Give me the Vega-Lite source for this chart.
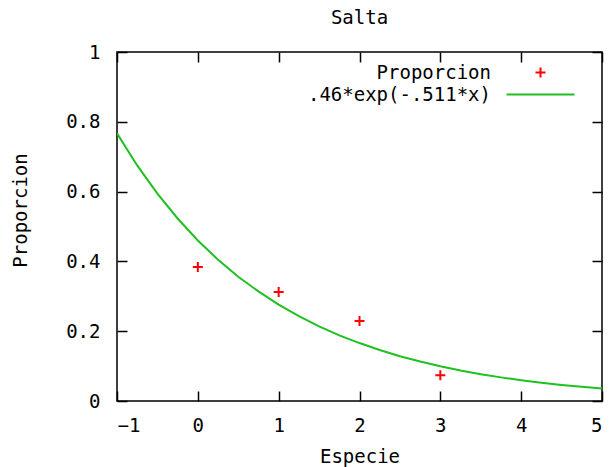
{
  "$schema": "https://vega.github.io/schema/vega-lite/v6.json",
  "width": 485,
  "height": 349,
  "autosize": {"type": "none"},
  "padding": {"left": 117, "top": 52, "right": 10, "bottom": 66},
  "background": "#ffffff",
  "title": {"text": "Salta", "font": "DejaVu Sans Mono", "fontSize": 19, "fontWeight": "normal", "color": "#000", "offset": -4, "anchor": "middle", "frame": "group", "baseline": "bottom"},
  "config": {
    "view": {"stroke": "#000", "strokeWidth": 1.5},
    "axis": {"grid": false, "domain": false, "tickSize": -10, "tickColor": "#000", "tickWidth": 1.5, "labelFont": "DejaVu Sans Mono", "labelFontSize": 19, "labelColor": "#000", "titleFont": "DejaVu Sans Mono", "titleFontSize": 19, "titleFontWeight": "normal", "titleColor": "#000"}
  },
  "datasets": {
    "fit": [
      {"x": -1, "y": 0.767}, {"x": -0.75, "y": 0.675}, {"x": -0.5, "y": 0.594}, {"x": -0.25, "y": 0.523},
      {"x": 0, "y": 0.46}, {"x": 0.25, "y": 0.405}, {"x": 0.5, "y": 0.356}, {"x": 0.75, "y": 0.314},
      {"x": 1, "y": 0.276}, {"x": 1.25, "y": 0.243}, {"x": 1.5, "y": 0.214}, {"x": 1.75, "y": 0.188},
      {"x": 2, "y": 0.166}, {"x": 2.25, "y": 0.146}, {"x": 2.5, "y": 0.128}, {"x": 2.75, "y": 0.113},
      {"x": 3, "y": 0.0993}, {"x": 3.25, "y": 0.0874}, {"x": 3.5, "y": 0.0769}, {"x": 3.75, "y": 0.0677},
      {"x": 4, "y": 0.0596}, {"x": 4.25, "y": 0.0524}, {"x": 4.5, "y": 0.0461}, {"x": 4.75, "y": 0.0406},
      {"x": 5, "y": 0.0357}
    ],
    "obs": [
      {"x": 0, "y": 0.384}, {"x": 1, "y": 0.312}, {"x": 2, "y": 0.229}, {"x": 3, "y": 0.074}
    ]
  },
  "resolve": {"axis": {"x": "independent", "y": "independent"}},
  "layer": [
    {
      "data": {"name": "fit"},
      "transform": [{"calculate": "'.46*exp(-.511*x)'", "as": "series"}],
      "mark": {"type": "line", "strokeWidth": 2, "clip": true},
      "encoding": {
        "x": {"field": "x", "type": "quantitative", "scale": {"domain": [-1, 5], "nice": false, "zero": false},
              "axis": {"orient": "bottom", "values": [-1, 0, 1, 2, 3, 4, 5], "format": "~g", "labelPadding": 25, "title": "Especie", "titleY": 55, "titleBaseline": "middle"}},
        "y": {"field": "y", "type": "quantitative", "scale": {"domain": [0, 1], "nice": false},
              "axis": {"orient": "left", "values": [0, 0.2, 0.4, 0.6, 0.8, 1], "format": "~g", "labelPadding": 27, "title": "Proporcion", "titleX": -97, "titleY": 158, "titleBaseline": "middle", "titleAlign": "center", "titleAngle": -90}},
        "color": {"field": "series", "type": "nominal",
                  "scale": {"domain": ["Proporcion", ".46*exp(-.511*x)"], "range": ["#ff0000", "#20c020"]},
                  "legend": {"orient": "none", "legendX": 414, "legendY": 11, "title": null, "labelAlign": "right", "labelOffset": -59, "labelLimit": 400, "symbolSize": 100, "rowPadding": 2, "padding": 0, "labelFont": "DejaVu Sans Mono", "labelFontSize": 19, "labelColor": "#000", "labelBaseline": "middle", "symbolStrokeWidth": 2,
                             "encode": {"symbols": {"update": {
                               "shape": {"signal": "datum.value === 'Proporcion' ? 'M-1,0L1,0M0,-1L0,1' : 'M-6.8,0L6.8,0'"},
                               "size": {"value": 100},
                               "stroke": {"signal": "datum.value === 'Proporcion' ? '#ff0000' : '#20c020'"},
                               "fill": {"value": "transparent"},
                               "opacity": {"value": 1},
                               "strokeWidth": {"value": 2}
                             }}}}}
      }
    },
    {
      "data": {"name": "obs"},
      "transform": [{"calculate": "'Proporcion'", "as": "series"}],
      "mark": {"type": "point", "shape": "M-1,0L1,0M0,-1L0,1", "filled": false, "size": 100, "strokeWidth": 2, "opacity": 1},
      "encoding": {
        "x": {"field": "x", "type": "quantitative", "scale": {"domain": [-1, 5], "nice": false, "zero": false},
              "axis": {"orient": "top", "values": [-1, 0, 1, 2, 3, 4, 5], "labels": false, "title": null}},
        "y": {"field": "y", "type": "quantitative", "scale": {"domain": [0, 1], "nice": false},
              "axis": {"orient": "right", "values": [0, 0.2, 0.4, 0.6, 0.8, 1], "labels": false, "title": null}},
        "color": {"field": "series", "type": "nominal"}
      }
    }
  ]
}
